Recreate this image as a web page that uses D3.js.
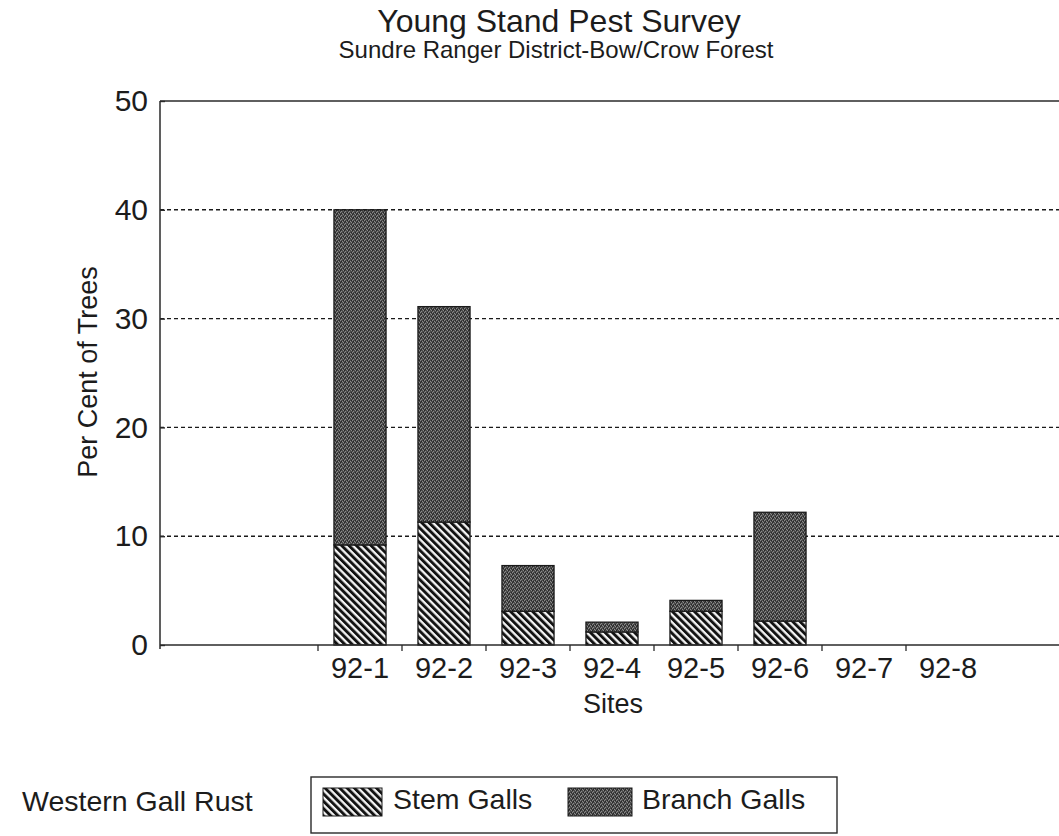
<!DOCTYPE html>
<html>
<head>
  <meta charset="utf-8">
  <script src="https://cdn.jsdelivr.net/npm/d3@7"></script>
  <style>
    body { margin: 0; background: #fff; }
    svg { display: block; font-family: "Liberation Sans", Arial, Helvetica, sans-serif; }
    text { fill: #1c1c1c; }
  </style>
</head>
<body>
  <script type="text/javascript">
    // chart data
    var sites = ["92-1", "92-2", "92-3", "92-4", "92-5", "92-6", "92-7", "92-8"];
    var stemGalls = [9.2, 11.3, 3.1, 1.2, 3.1, 2.2, 0, 0];
    var branchGalls = [30.8, 19.8, 4.2, 0.9, 1.0, 10.0, 0, 0];
    var yTicks = [0, 10, 20, 30, 40, 50];
    var seriesNames = ["Stem Galls", "Branch Galls"];

    var width = 1059, height = 836;
    var plotLeft = 160, plotRight = 1059, plotTop = 101, plotBottom = 645;

    var svg = d3.select("body").append("svg")
        .attr("width", width)
        .attr("height", height);

    // fills: hatching for stem galls, dark stipple for branch galls
    var defs = svg.append("defs");
    var hatch = defs.append("pattern")
        .attr("id", "hatch")
        .attr("patternUnits", "userSpaceOnUse")
        .attr("width", 5.2).attr("height", 5.2)
        .attr("patternTransform", "rotate(-45)");
    hatch.append("rect").attr("width", 5.2).attr("height", 5.2).attr("fill", "#f4f4f4");
    hatch.append("rect").attr("width", 2.9).attr("height", 5.2).attr("fill", "#121212");

    var stipple = defs.append("pattern")
        .attr("id", "stipple")
        .attr("patternUnits", "userSpaceOnUse")
        .attr("width", 4).attr("height", 4);
    stipple.append("rect").attr("width", 4).attr("height", 4).attr("fill", "#4a4a4a");
    [[0, 0], [2, 1], [1, 3], [3, 2]].forEach(function (p) {
      stipple.append("rect").attr("x", p[0]).attr("y", p[1])
          .attr("width", 1).attr("height", 1).attr("fill", "#8a8a8a");
    });
    [[1, 1], [3, 0], [0, 2]].forEach(function (p) {
      stipple.append("rect").attr("x", p[0]).attr("y", p[1])
          .attr("width", 1).attr("height", 1).attr("fill", "#262626");
    });

    var x = d3.scaleBand()
        .domain(sites)
        .range([318, 990])
        .paddingInner(0.38)
        .paddingOuter(0.19);

    var y = d3.scaleLinear()
        .domain([0, 50])
        .range([plotBottom, plotTop]);

    // titles
    svg.append("text")
        .attr("x", 559).attr("y", 32)
        .attr("text-anchor", "middle")
        .style("font-size", "32px")
        .text("Young Stand Pest Survey");
    svg.append("text")
        .attr("x", 556).attr("y", 58)
        .attr("text-anchor", "middle")
        .style("font-size", "24px")
        .text("Sundre Ranger District-Bow/Crow Forest");

    // dashed grid + solid frame line at the top
    svg.append("g").selectAll("line")
        .data(yTicks.filter(function (d) { return d > 0 && d < 50; }))
        .enter().append("line")
        .attr("x1", plotLeft).attr("x2", plotRight)
        .attr("y1", function (d) { return y(d); })
        .attr("y2", function (d) { return y(d); })
        .attr("stroke", "#1a1a1a")
        .attr("stroke-width", 1.4)
        .attr("stroke-dasharray", "4,3");
    svg.append("line")
        .attr("x1", plotLeft).attr("x2", plotRight)
        .attr("y1", y(50)).attr("y2", y(50))
        .attr("stroke", "#2a2a2a").attr("stroke-width", 1.5);

    // stacked bars
    var stack = sites.map(function (s, i) {
      return { site: s, stem: stemGalls[i], branch: branchGalls[i] };
    });
    var bars = svg.append("g");
    bars.selectAll(".stem")
        .data(stack.filter(function (d) { return d.stem > 0; }))
        .enter().append("rect")
        .attr("class", "stem")
        .attr("x", function (d) { return x(d.site); })
        .attr("width", x.bandwidth())
        .attr("y", function (d) { return y(d.stem); })
        .attr("height", function (d) { return y(0) - y(d.stem); })
        .attr("fill", "url(#hatch)")
        .attr("stroke", "#1a1a1a").attr("stroke-width", 1.3);
    bars.selectAll(".branch")
        .data(stack.filter(function (d) { return d.branch > 0; }))
        .enter().append("rect")
        .attr("class", "branch")
        .attr("x", function (d) { return x(d.site); })
        .attr("width", x.bandwidth())
        .attr("y", function (d) { return y(d.stem + d.branch); })
        .attr("height", function (d) { return y(d.stem) - y(d.stem + d.branch); })
        .attr("fill", "url(#stipple)")
        .attr("stroke", "#1a1a1a").attr("stroke-width", 1.3);

    // y axis
    var yAxis = svg.append("g")
        .attr("transform", "translate(" + plotLeft + ",0)")
        .call(d3.axisLeft(y).tickValues(yTicks).tickSize(8).tickPadding(4).tickSizeOuter(0));
    yAxis.select(".domain").attr("stroke", "#2a2a2a").attr("stroke-width", 1.5)
        .attr("d", "M0," + plotTop + "V" + (plotBottom + 4));
    yAxis.selectAll(".tick line").attr("x2", 5).attr("stroke", "#2a2a2a").attr("stroke-width", 1.4);
    yAxis.selectAll(".tick text")
        .style("font-size", "30px")
        .style("font-family", "\"Liberation Sans\", Arial, sans-serif")
        .attr("fill", "#1c1c1c");

    // x axis: labels centred in bands, ticks on band edges
    var xAxis = svg.append("g")
        .attr("transform", "translate(0," + plotBottom + ")")
        .call(d3.axisBottom(x).tickSize(0).tickPadding(12).tickSizeOuter(0));
    xAxis.select(".domain").attr("stroke", "#2a2a2a").attr("stroke-width", 1.5)
        .attr("d", "M" + plotLeft + ",0H" + plotRight);
    xAxis.selectAll(".tick text")
        .style("font-size", "29px")
        .style("font-family", "\"Liberation Sans\", Arial, sans-serif")
        .attr("fill", "#1c1c1c")
        .attr("dy", "0.71em");
    var half = (x.step() - x.bandwidth()) / 2;
    xAxis.append("g").selectAll("line")
        .data(sites)
        .enter().append("line")
        .attr("x1", function (d) { return x(d) - half; })
        .attr("x2", function (d) { return x(d) - half; })
        .attr("y1", 0).attr("y2", 6)
        .attr("stroke", "#2a2a2a").attr("stroke-width", 1.3);

    svg.append("text")
        .attr("x", 613).attr("y", 713)
        .attr("text-anchor", "middle")
        .style("font-size", "27px")
        .text("Sites");

    svg.append("text")
        .attr("transform", "translate(97,372) rotate(-90)")
        .attr("text-anchor", "middle")
        .style("font-size", "27px")
        .text("Per Cent of Trees");

    // legend
    svg.append("text")
        .attr("x", 22).attr("y", 811)
        .style("font-size", "28.5px")
        .text("Western Gall Rust");

    svg.append("rect")
        .attr("x", 311).attr("y", 777)
        .attr("width", 526).attr("height", 56)
        .attr("fill", "none")
        .attr("stroke", "#2a2a2a").attr("stroke-width", 1.4);

    var legendX = [323, 568];
    var legendFill = ["url(#hatch)", "url(#stipple)"];
    var items = svg.append("g").selectAll("g")
        .data(seriesNames)
        .enter().append("g")
        .attr("transform", function (d, i) { return "translate(" + legendX[i] + ",788)"; });
    items.append("rect")
        .attr("width", function (d, i) { return i === 0 ? 59 : 64; })
        .attr("height", 28)
        .attr("fill", function (d, i) { return legendFill[i]; })
        .attr("stroke", "#1a1a1a").attr("stroke-width", 1);
    items.append("text")
        .attr("x", function (d, i) { return i === 0 ? 70 : 74; })
        .attr("y", 21)
        .style("font-size", "28.5px")
        .text(function (d) { return d; });
  </script>
</body>
</html>
